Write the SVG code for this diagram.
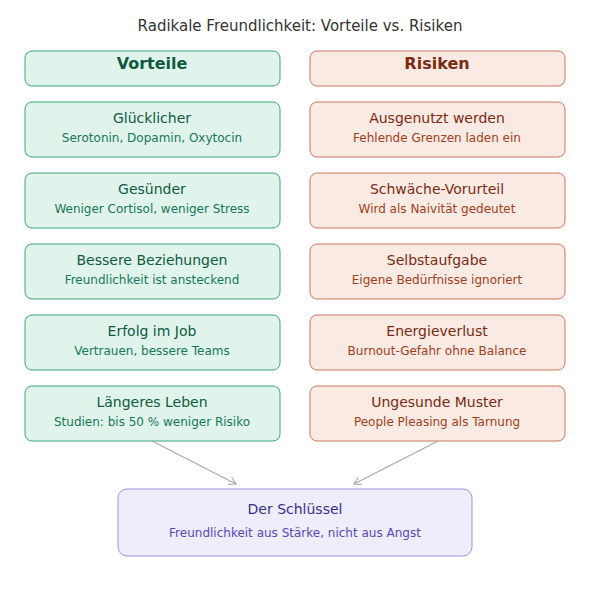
<svg xmlns="http://www.w3.org/2000/svg" width="600" height="600" viewBox="0 0 600 600">
<defs>
<style>
text{font-family:"DejaVu Sans",sans-serif;text-anchor:middle}
.g{fill:#e1f4ec;stroke:#3aa57a;stroke-width:1}
.r{fill:#faeae4;stroke:#c8775a;stroke-width:1}
.gt{fill:#0f5a40;font-size:14px}
.gs{fill:#16775a;font-size:12px}
.rt{fill:#7a2a10;font-size:14px}
.rs{fill:#a0401a;font-size:12px}
</style>
<marker id="a" markerWidth="10" markerHeight="10" refX="8" refY="5" orient="auto" markerUnits="userSpaceOnUse"><path d="M1,1 L8,5 L1,9" fill="none" stroke="#aaa" stroke-width="1.2"/></marker>
</defs>
<rect width="600" height="600" fill="#fff"/>
<text x="300" y="31" font-size="15" fill="#333">Radikale Freundlichkeit: Vorteile vs. Risiken</text>
<g id="h1"><rect class="g" x="25" y="51" width="255" height="35" rx="7"/><text x="152" y="69" font-size="16" font-weight="bold" fill="#0f5a40">Vorteile</text></g>
<g id="h2"><rect class="r" x="310" y="51" width="255" height="35" rx="7"/><text x="437" y="69" font-size="16" font-weight="bold" fill="#7a2a10">Risiken</text></g>
<g id="v1"><rect class="g" x="25" y="102" width="255" height="55" rx="7"/><text class="gt" x="152" y="123">Glücklicher</text><text class="gs" x="152" y="142">Serotonin, Dopamin, Oxytocin</text></g>
<g id="v2"><rect class="g" x="25" y="173" width="255" height="55" rx="7"/><text class="gt" x="152" y="194">Gesünder</text><text class="gs" x="152" y="213">Weniger Cortisol, weniger Stress</text></g>
<g id="v3"><rect class="g" x="25" y="244" width="255" height="55" rx="7"/><text class="gt" x="152" y="265">Bessere Beziehungen</text><text class="gs" x="152" y="284">Freundlichkeit ist ansteckend</text></g>
<g id="v4"><rect class="g" x="25" y="315" width="255" height="55" rx="7"/><text class="gt" x="152" y="336">Erfolg im Job</text><text class="gs" x="152" y="355">Vertrauen, bessere Teams</text></g>
<g id="v5"><rect class="g" x="25" y="386" width="255" height="55" rx="7"/><text class="gt" x="152" y="407">Längeres Leben</text><text class="gs" x="152" y="426">Studien: bis 50 % weniger Risiko</text></g>
<g id="r1"><rect class="r" x="310" y="102" width="255" height="55" rx="7"/><text class="rt" x="437" y="123">Ausgenutzt werden</text><text class="rs" x="437" y="142">Fehlende Grenzen laden ein</text></g>
<g id="r2"><rect class="r" x="310" y="173" width="255" height="55" rx="7"/><text class="rt" x="437" y="194">Schwäche-Vorurteil</text><text class="rs" x="437" y="213">Wird als Naivität gedeutet</text></g>
<g id="r3"><rect class="r" x="310" y="244" width="255" height="55" rx="7"/><text class="rt" x="437" y="265">Selbstaufgabe</text><text class="rs" x="437" y="284">Eigene Bedürfnisse ignoriert</text></g>
<g id="r4"><rect class="r" x="310" y="315" width="255" height="55" rx="7"/><text class="rt" x="437" y="336">Energieverlust</text><text class="rs" x="437" y="355">Burnout-Gefahr ohne Balance</text></g>
<g id="r5"><rect class="r" x="310" y="386" width="255" height="55" rx="7"/><text class="rt" x="437" y="407">Ungesunde Muster</text><text class="rs" x="437" y="426">People Pleasing als Tarnung</text></g>
<g id="key"><rect x="118" y="489" width="354" height="67" rx="9" fill="#ededfc" stroke="#9a92de"/><text x="295" y="514" font-size="14" fill="#3b2f8a">Der Schlüssel</text><text x="295" y="537" font-size="12" fill="#5a47b8">Freundlichkeit aus Stärke, nicht aus Angst</text></g>
<g id="connectors" stroke="#aaa" stroke-width="1.3" fill="none">
<line x1="152" y1="441" x2="236" y2="484" marker-end="url(#a)"/>
<line x1="438" y1="441" x2="354" y2="484" marker-end="url(#a)"/>
</g>
</svg>
